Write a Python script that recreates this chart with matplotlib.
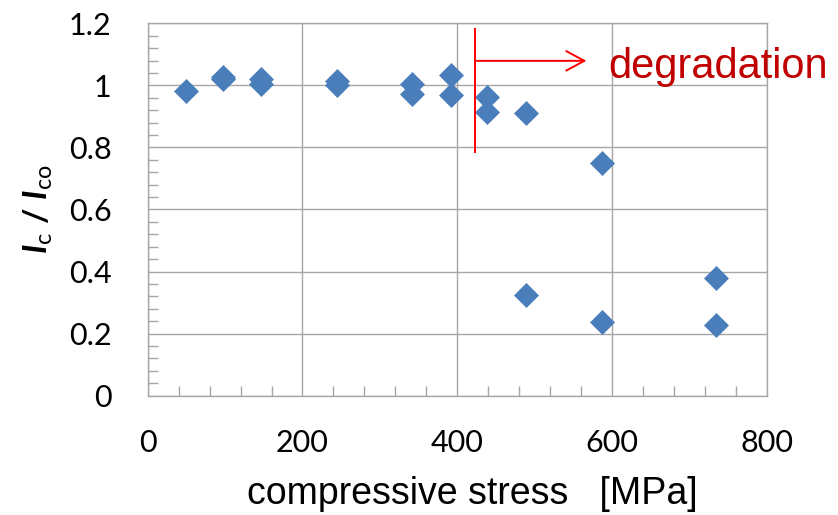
import numpy as np
import matplotlib.pyplot as plt
from matplotlib.ticker import MultipleLocator

# data (stress in MPa, normalised critical current)
stress = [50, 97, 97, 147, 147, 244, 244, 342, 342, 392, 392,
          439, 439, 489, 489, 587, 587, 734, 734]
ic_ratio = [0.982, 1.028, 1.020, 1.020, 1.003, 1.014, 1.001, 1.004, 0.971,
            1.034, 0.969, 0.962, 0.915, 0.912, 0.325, 0.750, 0.238, 0.380, 0.227]

x_ticks = [0, 200, 400, 600, 800]
y_ticks = [0, 0.2, 0.4, 0.6, 0.8, 1, 1.2]
y_tick_labels = ['0', '0.2', '0.4', '0.6', '0.8', '1', '1.2']

# degradation marker: onset stress, vertical span, arrow level/end
onset = 423
onset_span = (0.786, 1.181)
arrow_y = 1.079
arrow_end = 567

plt.rcParams['mathtext.fontset'] = 'custom'
plt.rcParams['mathtext.rm'] = 'Lato'
plt.rcParams['mathtext.it'] = 'Lato:italic:bold'
plt.rcParams['mathtext.bf'] = 'Lato:bold'

fig = plt.figure(figsize=(8.38, 5.15), dpi=100)
ax = fig.add_axes([0.1763, 0.2317, 0.7386, 0.7231])

grid_col = '#a6a6a6'
ax.set_axisbelow(True)
ax.grid(True, color=grid_col, linewidth=1.0)
for s in ax.spines.values():
    s.set_color(grid_col)
    s.set_linewidth(1.0)

ax.plot(stress, ic_ratio, linestyle='none', marker='D', markersize=12,
        color='#4a7ebb', markeredgecolor='#4a7ebb', markeredgewidth=0.5,
        zorder=3)

ax.set_xlim(0, 800)
ax.set_ylim(0, 1.2)
ax.set_xticks(x_ticks)
ax.set_yticks(y_ticks)
ax.set_yticklabels(y_tick_labels)
ax.xaxis.set_minor_locator(MultipleLocator(40))
ax.yaxis.set_minor_locator(MultipleLocator(0.04))
ax.tick_params(which='major', length=0, labelsize=22, labelcolor='black')
ax.tick_params(axis='x', which='major', pad=24)
ax.tick_params(axis='y', which='major', pad=26)
ax.tick_params(which='minor', direction='in', length=7, width=1.0,
               color=grid_col)
for lab in ax.get_xticklabels() + ax.get_yticklabels():
    lab.set_fontfamily('Lato')

ax.set_xlabel('compressive stress   [MPa]', fontsize=27,
              fontfamily='Liberation Sans')
ax.xaxis.set_label_coords(0.525, -0.215)
ax.set_ylabel(r'$I_{\mathrm{c}}\ \mathbf{/}\ I_{\mathrm{co}}$', fontsize=24)
ax.yaxis.set_label_coords(-0.15, 0.5)

# degradation onset line and arrow
ax.plot([onset, onset], onset_span, color='#ff0000', linewidth=1.4,
        clip_on=False, zorder=4)
ax.annotate('', xy=(arrow_end, arrow_y), xytext=(onset, arrow_y),
            arrowprops=dict(arrowstyle='->,head_length=1.3,head_width=0.7',
                            color='#ff0000', linewidth=1.4,
                            shrinkA=0, shrinkB=0, mutation_scale=10),
            annotation_clip=False, zorder=4)
ax.text(595, 1.024, 'degradation', color='#c00000', fontsize=30,
        fontfamily='Liberation Sans', va='baseline', ha='left',
        clip_on=False, zorder=5)

fig.savefig('out.png', dpi=100)
